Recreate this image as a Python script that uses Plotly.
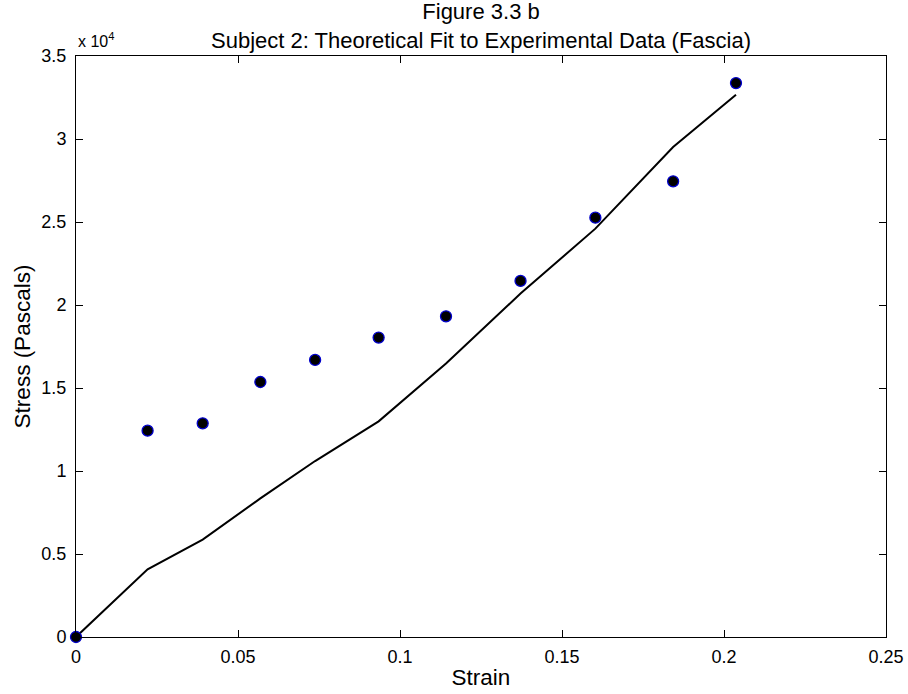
import plotly.graph_objects as go

strain = [0.0, 0.0221, 0.0391, 0.0569, 0.0738, 0.0934, 0.1142, 0.1372, 0.1603, 0.1843, 0.2037]
stress_exp = [0, 12430, 12870, 15360, 16690, 18040, 19320, 21450, 25260, 27450, 33370]
stress_fit = [0, 4080, 5870, 8350, 10600, 12990, 16470, 20690, 24600, 29520, 32670]

yticks = [0, 5000, 10000, 15000, 20000, 25000, 30000, 35000]
yticklabels = ["0", "0.5", "1", "1.5", "2", "2.5", "3", "3.5"]
xticks = [0, 0.05, 0.1, 0.15, 0.2, 0.25]
xticklabels = ["0", "0.05", "0.1", "0.15", "0.2", "0.25"]

title_line1 = "Figure 3.3 b"
title_line2 = "Subject 2: Theoretical Fit to Experimental Data (Fascia)"

font = "Liberation Sans, Arial, sans-serif"

fig = go.Figure()
fig.add_trace(go.Scatter(x=strain, y=stress_fit, mode="lines",
                         line=dict(color="black", width=2), showlegend=False))
fig.add_trace(go.Scatter(x=strain, y=stress_exp, mode="markers",
                         marker=dict(color="black", size=11, line=dict(color="#0000cc", width=1.3)),
                         showlegend=False, cliponaxis=False))

fig.update_layout(
    width=908, height=694,
    margin=dict(l=76, r=22, t=56, b=57, autoexpand=False),
    paper_bgcolor="white", plot_bgcolor="white",
    font=dict(family=font, size=18, color="black"),
    xaxis=dict(range=[0, 0.25], tickvals=xticks, ticktext=xticklabels,
               ticks="inside", ticklen=7, tickcolor="black", showline=True, linecolor="black",
               linewidth=1, mirror="ticks", showgrid=False, zeroline=False,
               ticklabelstandoff=3,
               title=dict(text="Strain", font=dict(size=22.5), standoff=3)),
    yaxis=dict(range=[0, 35000], tickvals=yticks, ticktext=yticklabels,
               ticks="inside", ticklen=7, tickcolor="black", showline=True, linecolor="black",
               linewidth=1, mirror="ticks", showgrid=False, zeroline=False,
               ticklabelstandoff=5,
               title=dict(text="Stress (Pascals)", font=dict(size=22.5), standoff=4)),
    annotations=[
        dict(text=title_line1 + "<br>" + title_line2, xref="paper", yref="paper", x=0.5, y=1,
             xanchor="center", yanchor="bottom", showarrow=False, yshift=1,
             font=dict(size=22)),
        dict(text="x 10<sup>4</sup>", xref="paper", yref="paper", x=0, y=1,
             xanchor="left", yanchor="bottom", showarrow=False, yshift=4,
             font=dict(size=16)),
    ],
)

fig.write_html("out.html", config={"displayModeBar": False},
               post_script="document.body.style.margin='0';document.body.style.padding='0';")
